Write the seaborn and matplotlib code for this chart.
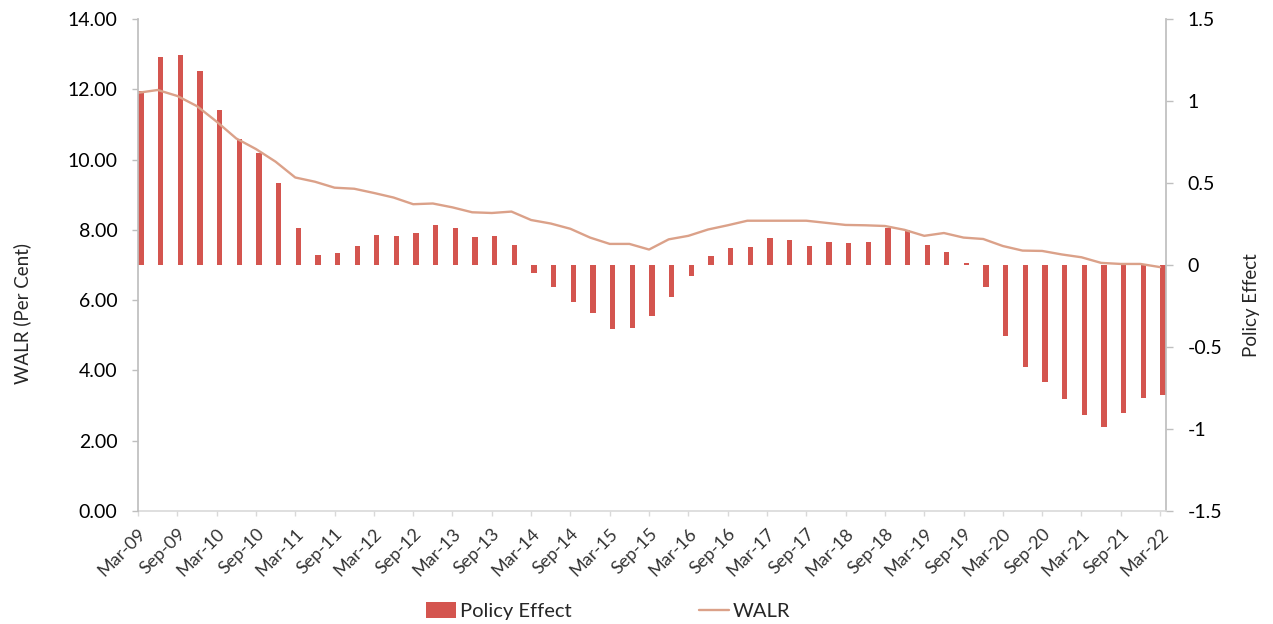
import numpy as np
import pandas as pd
import matplotlib
matplotlib.use("Agg")
import matplotlib.pyplot as plt
import seaborn as sns
from matplotlib.lines import Line2D
from matplotlib.patches import Patch

# Quarterly series, Mar-09 .. Mar-22
quarters = [f"{m}-{y:02d}" for y in range(9, 23) for m in ("Mar", "Jun", "Sep", "Dec")][:53]

policy_effect = [
    1.06, 1.27, 1.28, 1.185, 0.945, 0.77, 0.68, 0.50, 0.224, 0.059,
    0.075, 0.116, 0.181, 0.175, 0.195, 0.244, 0.224, 0.171, 0.175, 0.122,
    -0.047, -0.136, -0.228, -0.291, -0.392, -0.386, -0.311, -0.193, -0.069, 0.055,
    0.102, 0.112, 0.165, 0.154, 0.116, 0.138, 0.132, 0.138, 0.224, 0.213,
    0.122, 0.079, 0.01, -0.136, -0.431, -0.62, -0.715, -0.815, -0.913, -0.986,
    -0.902, -0.811, -0.795,
]

walr = [
    11.90, 11.98, 11.81, 11.52, 11.08, 10.60, 10.30, 9.94, 9.49, 9.37,
    9.20, 9.17, 9.05, 8.92, 8.73, 8.75, 8.64, 8.50, 8.48, 8.52,
    8.28, 8.18, 8.03, 7.78, 7.60, 7.60, 7.44, 7.73, 7.83, 8.01,
    8.13, 8.26, 8.26, 8.26, 8.26, 8.20, 8.14, 8.13, 8.11, 8.00,
    7.83, 7.91, 7.78, 7.74, 7.54, 7.41, 7.40, 7.30, 7.22, 7.06,
    7.03, 7.03, 6.94,
]

tick_labels = [
    "Mar-09", "Sep-09", "Mar-10", "Sep-10", "Mar-11", "Sep-11", "Mar-12",
    "Sep-12", "Mar-13", "Sep-13", "Mar-14", "Sep-14", "Mar-15", "Sep-15",
    "Mar-16", "Sep-16", "Mar-17", "Sep-17", "Mar-18", "Sep-18", "Mar-19",
    "Sep-19", "Mar-20", "Sep-20", "Mar-21", "Sep-21", "Mar-22",
]

left_ticks = [0, 2, 4, 6, 8, 10, 12, 14]
right_ticks = [-1.5, -1, -0.5, 0, 0.5, 1, 1.5]
right_tick_labels = ["-1.5", "-1", "-0.5", "0", "0.5", "1", "1.5"]

BAR_COLOR = "#D4554F"
LINE_COLOR = "#DBA189"
AXIS_GRAY = "#BFBFBF"
BASE_GRAY = "#D9D9D9"

sns.set_theme(style="white")
plt.rcParams["font.family"] = ["Lato", "DejaVu Sans"]

W, H = 1273, 624
fig = plt.figure(figsize=(W / 100, H / 100), dpi=100)
ax = fig.add_axes([138 / W, (H - 511) / H, (1166 - 138) / W, (511 - 19) / H])

idx = np.arange(len(quarters))
df = pd.DataFrame({"quarter": quarters, "pos": idx + 0.15,
                   "policy": policy_effect, "walr": walr, "i": idx})

# Bars: policy effect on the right-hand scale
sns.barplot(data=df, x="pos", y="policy", native_scale=True, width=0.27,
            color=BAR_COLOR, saturation=1, linewidth=0, ax=ax)

# Line: WALR on the left-hand scale, drawn above the bars
ax2 = ax.twinx()
sns.lineplot(data=df, x="i", y="walr", color=LINE_COLOR, linewidth=1.7, ax=ax2)

ax.set_xlim(0, 52.3)
ax.set_ylim(-1.5, 1.5)
ax2.set_ylim(0, 14)

# Swap sides: bar scale on the right, line scale on the left
ax.yaxis.tick_right()
ax.yaxis.set_label_position("right")
ax2.yaxis.tick_left()
ax2.yaxis.set_label_position("left")

ax.set_yticks(right_ticks)
ax.set_yticklabels(right_tick_labels)
ax2.set_yticks(left_ticks)
ax2.set_yticklabels([f"{v:.2f}" for v in left_ticks])

ax.set_xticks(np.arange(0, 53, 2))
ax.set_xticklabels(tick_labels, rotation=45, ha="right", va="top",
                   rotation_mode="anchor", fontsize=13)

for a in (ax, ax2):
    for s in a.spines.values():
        s.set_visible(False)
ax.spines["right"].set_visible(True)
ax.spines["right"].set_color(AXIS_GRAY)
ax.spines["bottom"].set_visible(True)
ax.spines["bottom"].set_color(BASE_GRAY)
ax.spines["bottom"].set_linewidth(1.2)
ax2.spines["left"].set_visible(True)
ax2.spines["left"].set_color(AXIS_GRAY)

ax.tick_params(axis="x", which="both", bottom=True, length=3.6, width=1,
               color=BASE_GRAY, labelcolor="#333333", pad=7)
ax.tick_params(axis="y", right=True, left=False, length=4.8, width=1,
               color=AXIS_GRAY, labelsize=14, labelcolor="black", pad=10.8)
ax2.tick_params(axis="y", left=True, right=False, length=4.3, width=1,
                color=AXIS_GRAY, labelsize=14, labelcolor="black", pad=10.5)

ax.set_xlabel("")
ax.set_ylabel("Policy Effect", fontsize=13.5)
ax.yaxis.set_label_coords((1243 - 138) / 1028, (511 - 305) / 492)
ax2.set_xlabel("")
ax2.set_ylabel("WALR (Per Cent)", fontsize=13.5)
ax2.yaxis.set_label_coords((31 - 138) / 1028, (511 - 313) / 492)

handles = [Patch(facecolor=BAR_COLOR, edgecolor="none", label="Policy Effect"),
           Line2D([], [], color=LINE_COLOR, linewidth=1.7, label="WALR")]
fig.legend(handles=handles, loc="center", bbox_to_anchor=(608 / W, 13 / H),
           ncol=2, frameon=False, fontsize=14.5, columnspacing=6.3,
           handlelength=1.5, handletextpad=0.2, handleheight=0.85)

fig.savefig("out.png", dpi=100)
